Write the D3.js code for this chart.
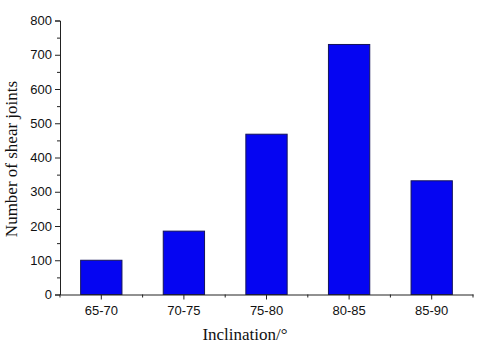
<!DOCTYPE html>
<html>
<head>
<meta charset="utf-8">
<style>
body { margin: 0; background: #fff; }
.tick text { font-family: "Liberation Sans", Arial, sans-serif; font-size: 13px; fill: #111; }
.title { font-family: "Liberation Serif", "Times New Roman", serif; font-size: 17px; fill: #111; }
</style>
</head>
<body>
<svg id="chart" width="477" height="345"></svg>
<script src="https://d3js.org/d3.v7.min.js"></script>
<script>
var categories = ["65-70", "70-75", "75-80", "80-85", "85-90"];
var counts = [100, 185, 468, 730, 332];
var yTicks = [0, 100, 200, 300, 400, 500, 600, 700, 800];
var yMinorTicks = [50, 150, 250, 350, 450, 550, 650, 750];

var svg = d3.select("#chart");

var x = d3.scaleBand()
  .domain(categories)
  .range([60, 473])
  .paddingInner(0.5)
  .paddingOuter(0.25);

var y = d3.scaleLinear()
  .domain([0, 800])
  .range([294.5, 20.5]);

// bars
svg.append("g")
  .selectAll("rect")
  .data(categories)
  .enter().append("rect")
  .attr("x", function(d) { return x(d); })
  .attr("y", function(d, i) { return y(counts[i]); })
  .attr("width", x.bandwidth())
  .attr("height", function(d, i) { return y(0) - y(counts[i]); })
  .attr("fill", "#0505f2")
  .attr("stroke", "#14145a")
  .attr("stroke-width", 1);

// y axis
var yAxis = svg.append("g")
  .attr("transform", "translate(60,0)")
  .call(d3.axisLeft(y).tickValues(yTicks).tickSize(5).tickPadding(3));
yAxis.select(".domain").attr("stroke", "#222");
yAxis.selectAll(".tick line").attr("stroke", "#222");

svg.append("g")
  .attr("transform", "translate(60,0)")
  .call(d3.axisLeft(y).tickValues(yMinorTicks).tickSize(3).tickFormat(""))
  .call(function(g) { g.select(".domain").remove(); })
  .selectAll("line").attr("stroke", "#222");

// x axis
var xAxis = svg.append("g")
  .attr("transform", "translate(0," + y(0) + ")")
  .call(d3.axisBottom(x).tickSize(5).tickSizeOuter(0).tickPadding(6));
xAxis.select(".domain").attr("stroke", "#222");
xAxis.selectAll(".tick line").attr("stroke", "#222");

// minor ticks between categories
var bounds = d3.range(categories.length + 1).map(function(i) { return x.range()[0] + i * x.step(); });
svg.append("g")
  .selectAll("line")
  .data(bounds)
  .enter().append("line")
  .attr("x1", function(d) { return d; })
  .attr("x2", function(d) { return d; })
  .attr("y1", y(0))
  .attr("y2", y(0) + 3)
  .attr("stroke", "#222");

// axis titles
svg.append("text")
  .attr("class", "title")
  .attr("x", 245)
  .attr("y", 340)
  .attr("text-anchor", "middle")
  .text("Inclination/°");

svg.append("text")
  .attr("class", "title")
  .attr("transform", "translate(17,159) rotate(-90)")
  .attr("text-anchor", "middle")
  .text("Number of shear joints");
</script>
</body>
</html>
